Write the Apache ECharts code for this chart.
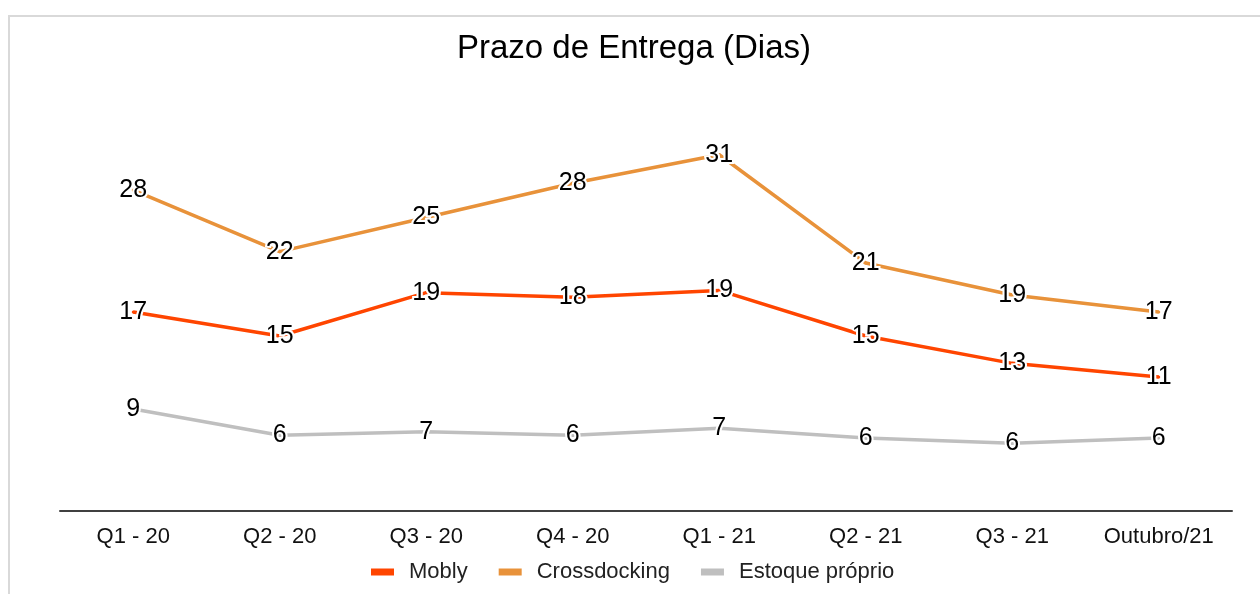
<!DOCTYPE html>
<html>
<head>
<meta charset="utf-8">
<script src="https://cdn.jsdelivr.net/npm/echarts@6/dist/echarts.min.js"></script>
<style>
html,body{margin:0;padding:0;background:#fff;}
#chart{width:1260px;height:594px;}
</style>
</head>
<body>
<div id="chart"></div>
<script>
var categories = ['Q1 - 20', 'Q2 - 20', 'Q3 - 20', 'Q4 - 20', 'Q1 - 21', 'Q2 - 21', 'Q3 - 21', 'Outubro/21'];
var mobly = [17.1, 15.0, 18.8, 18.4, 19.0, 15.0, 12.6, 11.4];
var crossdocking = [27.8, 22.4, 25.4, 28.4, 30.9, 21.4, 18.6, 17.1];
var estoqueProprio = [8.6, 6.3, 6.6, 6.3, 6.9, 6.05, 5.6, 6.05];
var seriesNames = ['Mobly', 'Crossdocking', 'Estoque próprio'];
var titleText = 'Prazo de Entrega (Dias)';

var FONT = '"Liberation Sans", Arial, sans-serif';
var colors = ['#FF4500', '#E8923A', '#BFBFBF'];

function makeSeries(name, data, color) {
  return {
    name: name,
    type: 'line',
    data: data,
    color: color,
    symbol: 'circle',
    symbolSize: 3,
    showSymbol: true,
    lineStyle: { width: 3.5, color: color },
    itemStyle: { color: color },
    label: {
      show: true,
      position: 'inside',
      fontFamily: FONT,
      fontSize: 25,
      color: '#000',
      textBorderColor: '#fff',
      textBorderWidth: 4,
      formatter: function (p) { return Math.round(p.value); }
    },
    emphasis: { disabled: true },
    animation: false
  };
}

var chart = echarts.init(document.getElementById('chart'), null, { renderer: 'canvas' });
chart.setOption({
  backgroundColor: '#fff',
  animation: false,
  graphic: [{
    type: 'rect',
    shape: { x: 9, y: 16, width: 1400, height: 800 },
    style: { fill: 'none', stroke: '#d9d9d9', lineWidth: 2 },
    silent: true,
    z: 0
  }],
  title: {
    text: titleText,
    left: 457,
    top: 32,
    padding: 0,
    textStyle: { fontFamily: FONT, fontSize: 33, fontWeight: 'normal', color: '#000' }
  },
  legend: {
    data: seriesNames,
    left: 371,
    top: 561,
    padding: 0,
    icon: 'rect',
    itemWidth: 23,
    itemHeight: 7,
    itemGap: 31,
    textStyle: { fontFamily: FONT, fontSize: 22, color: '#222', padding: [0, 0, 0, 10] }
  },
  grid: { left: 60, right: 28, top: 108, bottom: 87, containLabel: false },
  xAxis: {
    type: 'category',
    data: categories,
    boundaryGap: true,
    position: 'bottom',
    offset: 4,
    axisLine: { show: true, onZero: false, lineStyle: { color: '#404040', width: 2 } },
    axisTick: { show: false },
    axisLabel: { fontFamily: FONT, fontSize: 22, color: '#111', margin: 15, interval: 0 },
    splitLine: { show: false }
  },
  yAxis: {
    type: 'value',
    min: 0,
    max: 35,
    show: false,
    splitLine: { show: false }
  },
  series: [
    makeSeries(seriesNames[0], mobly, colors[0]),
    makeSeries(seriesNames[1], crossdocking, colors[1]),
    makeSeries(seriesNames[2], estoqueProprio, colors[2])
  ]
});
</script>
</body>
</html>
